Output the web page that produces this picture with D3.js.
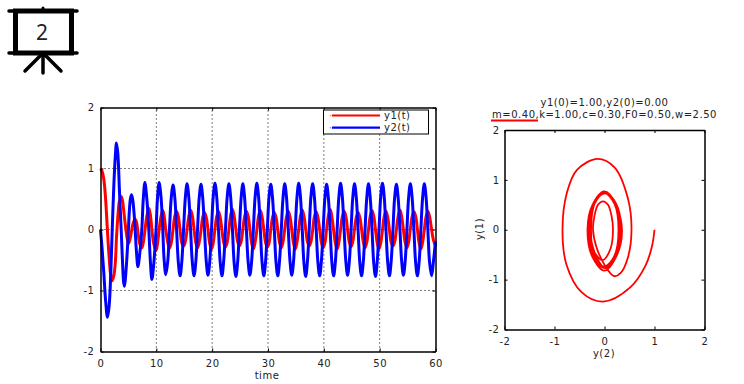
<!DOCTYPE html>
<html>
<head>
<meta charset="utf-8">
<script src="https://cdn.jsdelivr.net/npm/d3@7"></script>
<style>
html, body { margin: 0; padding: 0; background: #fff; }
text { font-family: "DejaVu Sans", sans-serif; font-size: 10px; fill: #222; letter-spacing: 0.5px; }
</style>
</head>
<body>
<svg id="chart" width="744" height="384"></svg>
<script>
// readings along the curves, about 8 per cycle
const time = [
    0, 0.3, 0.6, 0.9, 1.25, 1.55, 1.85, 2.1, 2.4, 2.65,
    2.86, 3.1, 3.4, 3.7, 3.95, 4.15, 4.3, 4.55, 4.8, 5,
    5.15, 5.35, 5.55, 5.75, 6, 6.2, 6.45, 6.7, 7.05, 7.4, 7.65,
    7.95, 8.3, 8.65, 8.95, 9.2, 9.55, 9.95, 10.2, 10.5, 10.85,
    11.15, 11.4, 11.7, 12.05, 12.35, 12.67,
    13, 13.31, 13.63, 13.94, 14.25, 14.56, 14.88, 15.19,
    15.5, 15.81, 16.13, 16.44, 16.75, 17.06, 17.38, 17.69,
    18, 18.31, 18.63, 18.94, 19.25, 19.56, 19.88, 20.19,
    20.5, 20.81, 21.13, 21.44, 21.75, 22.06, 22.38, 22.69,
    23, 23.31, 23.63, 23.94, 24.25, 24.56, 24.88, 25.19,
    25.5, 25.81, 26.13, 26.44, 26.75, 27.06, 27.38, 27.69,
    28, 28.31, 28.63, 28.94, 29.25, 29.56, 29.88, 30.19,
    30.5, 30.81, 31.13, 31.44, 31.75, 32.06, 32.38, 32.69,
    33, 33.31, 33.63, 33.94, 34.25, 34.56, 34.88, 35.19,
    35.5, 35.81, 36.13, 36.44, 36.75, 37.06, 37.38, 37.69,
    38, 38.31, 38.63, 38.94, 39.25, 39.56, 39.88, 40.19,
    40.5, 40.81, 41.13, 41.44, 41.75, 42.06, 42.38, 42.69,
    43, 43.31, 43.63, 43.94, 44.25, 44.56, 44.88, 45.19,
    45.5, 45.81, 46.13, 46.44, 46.75, 47.06, 47.38, 47.69,
    48, 48.31, 48.63, 48.94, 49.25, 49.56, 49.88, 50.19,
    50.5, 50.81, 51.13, 51.44, 51.75, 52.06, 52.38, 52.69,
    53, 53.31, 53.63, 53.94, 54.25, 54.56, 54.88, 55.19,
    55.5, 55.81, 56.13, 56.44, 56.75, 57.06, 57.38, 57.69,
    58, 58.31, 58.63, 58.94, 59.3, 59.6, 60
];
const y1Values = [
    1, 0.95, 0.82, 0.52, -0.03, -0.46, -0.76, -0.84, -0.75, -0.55,
    -0.14, 0.2, 0.47, 0.54, 0.47, 0.32, 0.19, 0, -0.16, -0.23,
    -0.2, -0.13, -0.03, 0.07, 0.14, 0.17, 0.12, -0.04, -0.24, -0.3, -0.22,
    -0.02, 0.22, 0.35, 0.23, 0, -0.24, -0.34, -0.24, 0, 0.22,
    0.31, 0.22, -0.01, -0.21, -0.31, -0.22,
    0.01, 0.22, 0.3, 0.21, -0.01, -0.22, -0.27, -0.2,
    0, 0.21, 0.32, 0.23, 0.01, -0.21, -0.3, -0.2,
    -0.01, 0.2, 0.28, 0.2, 0, -0.23, -0.32, -0.22,
    0.01, 0.21, 0.3, 0.2, -0.01, -0.21, -0.29, -0.21,
    0, 0.23, 0.33, 0.22, 0, -0.2, -0.27, -0.2,
    0.01, 0.21, 0.3, 0.22, 0.01, -0.22, -0.32, -0.21,
    -0.01, 0.22, 0.31, 0.21, 0, -0.21, -0.29, -0.22,
    0, 0.2, 0.28, 0.2, -0.01, -0.21, -0.3, -0.2,
    0.01, 0.21, 0.3, 0.21, 0, -0.22, -0.32, -0.21,
    0, 0.22, 0.32, 0.22, 0.01, -0.2, -0.27, -0.2,
    -0.01, 0.21, 0.29, 0.2, 0, -0.21, -0.3, -0.22,
    0.01, 0.23, 0.33, 0.21, -0.01, -0.22, -0.32, -0.21,
    0, 0.21, 0.3, 0.22, 0, -0.21, -0.28, -0.2,
    0.01, 0.2, 0.28, 0.2, 0.01, -0.2, -0.3, -0.21,
    0, 0.22, 0.31, 0.22, 0, -0.22, -0.32, -0.22,
    -0.01, 0.21, 0.3, 0.2, -0.01, -0.21, -0.27, -0.2,
    0, 0.22, 0.32, 0.21, 0, -0.21, -0.3, -0.2,
    0.01, 0.21, 0.29, 0.22, 0.01, -0.22, -0.32, -0.21,
    0, 0.21, 0.3, 0.21, 0, -0.16, -0.27
];
const y2Values = [
    0, -0.33, -0.72, -1.15, -1.44, -1.25, -0.7, 0, 0.75, 1.2,
    1.42, 1.25, 0.62, 0, -0.55, -0.87, -0.93, -0.7, -0.35, 0,
    0.28, 0.5, 0.57, 0.5, 0.28, 0, -0.38, -0.61, -0.38, 0, 0.48,
    0.77, 0.5, 0, -0.55, -0.82, -0.55, 0, 0.5, 0.77, 0.52,
    0, -0.5, -0.74, -0.52, 0, 0.52,
    0.73, 0.52, 0, -0.54, -0.76, -0.53, 0, 0.52,
    0.75, 0.53, 0, -0.53, -0.76, -0.54, 0, 0.53,
    0.74, 0.52, 0, -0.52, -0.75, -0.53, 0, 0.54,
    0.76, 0.54, 0, -0.54, -0.76, -0.52, 0, 0.53,
    0.75, 0.53, 0, -0.55, -0.77, -0.54, 0, 0.52,
    0.75, 0.52, 0, -0.53, -0.75, -0.53, 0, 0.53,
    0.76, 0.54, 0, -0.54, -0.76, -0.53, 0, 0.54,
    0.74, 0.52, 0, -0.54, -0.76, -0.52, 0, 0.52,
    0.75, 0.53, 0, -0.52, -0.75, -0.54, 0, 0.53,
    0.76, 0.54, 0, -0.55, -0.77, -0.53, 0, 0.54,
    0.75, 0.53, 0, -0.54, -0.76, -0.52, 0, 0.52,
    0.74, 0.52, 0, -0.54, -0.76, -0.54, 0, 0.53,
    0.76, 0.54, 0, -0.52, -0.75, -0.53, 0, 0.53,
    0.75, 0.53, 0, -0.54, -0.76, -0.54, 0, 0.52,
    0.75, 0.52, 0, -0.55, -0.77, -0.53, 0, 0.54,
    0.76, 0.54, 0, -0.54, -0.76, -0.52, 0, 0.53,
    0.74, 0.52, 0, -0.52, -0.75, -0.53, 0, 0.53,
    0.75, 0.53, 0, -0.54, -0.76, -0.54, 0, 0.52,
    0.75, 0.53, 0, -0.54, -0.76, -0.55, -0.2
];
const timeTicks = [0, 10, 20, 30, 40, 50, 60];
const valueTicks = [-2, -1, 0, 1, 2];
const gridTimeTicks = [10, 20, 30, 40, 50];
const gridValueTicks = [-1, 0, 1];
const legendLabels = ['y1(t)', 'y2(t)'];
const titleLines = ['y1(0)=1.00,y2(0)=0.00', 'm=0.40,k=1.00,c=0.30,F0=0.50,w=2.50'];

const RED = '#ff0000';
const BLUE = '#0000ff';
const svg = d3.select('#chart');
const curve = d3.curveCatmullRom;

function drawAxes(g, x, y, xTicks, yTicks, yPadding) {
    const [x0, x1] = x.range();
    const [y0, y1] = y.range();
    g.append('g').attr('transform', `translate(0,${y0})`)
        .call(d3.axisBottom(x).tickValues(xTicks).tickFormat(d3.format('d')).tickSizeInner(-3).tickSizeOuter(0).tickPadding(8));
    g.append('g').attr('transform', `translate(${x0},0)`)
        .call(d3.axisLeft(y).tickValues(yTicks).tickFormat(d3.format('d')).tickSizeInner(-3).tickSizeOuter(0).tickPadding(yPadding));
    g.append('g').attr('transform', `translate(0,${y1})`)
        .call(d3.axisTop(x).tickValues(xTicks).tickSizeInner(-3).tickSizeOuter(0).tickFormat(''));
    g.append('g').attr('transform', `translate(${x1},0)`)
        .call(d3.axisRight(y).tickValues(yTicks).tickSizeInner(-3).tickSizeOuter(0).tickFormat(''));
    g.selectAll('.domain').attr('stroke', '#000').attr('stroke-width', 1.5);
    g.selectAll('.tick line').attr('stroke', '#000');
    // the original uses a plain hyphen for negative numbers
    g.selectAll('.tick text').text(function() { return this.textContent.replace('\u2212', '-'); });
}

// presentation icon
const icon = svg.append('g').attr('stroke', '#000').attr('stroke-linecap', 'round').attr('fill', 'none');
icon.append('rect').attr('x', 15.5).attr('y', 11).attr('width', 56).attr('height', 42).attr('stroke-width', 5);
[[9, 11, 77, 11, 3.5], [9, 53, 77, 53, 3.5], [43, 8, 43, 11, 3],
 [43, 53, 25, 71, 3.5], [43, 53, 43, 73, 3.5], [43, 53, 61, 71, 3.5]].forEach(s => {
    icon.append('line').attr('x1', s[0]).attr('y1', s[1]).attr('x2', s[2]).attr('y2', s[3]).attr('stroke-width', s[4]);
});
svg.append('text').attr('x', 42).attr('y', 40).attr('text-anchor', 'middle')
    .style('font-family', '"Noto Sans", sans-serif').style('font-size', '21px').style('letter-spacing', 0).text('2');

// left: time series
const xTime = d3.scaleLinear().domain([0, 60]).range([100.5, 435.5]);
const yTime = d3.scaleLinear().domain([-2, 2]).range([351.5, 107.5]);
const leftGroup = svg.append('g');

gridTimeTicks.forEach(t => {
    leftGroup.append('line').attr('x1', xTime(t)).attr('x2', xTime(t))
        .attr('y1', yTime(-2)).attr('y2', yTime(2))
        .attr('stroke', '#000').attr('stroke-dasharray', '1 3');
});
gridValueTicks.forEach(v => {
    leftGroup.append('line').attr('x1', xTime(0)).attr('x2', xTime(60))
        .attr('y1', yTime(v)).attr('y2', yTime(v))
        .attr('stroke', '#000').attr('stroke-dasharray', '1 3');
});

const timeLine = values => d3.line().curve(curve)
    .x((d, i) => xTime(time[i]))
    .y((d, i) => yTime(values[i]))(values);

leftGroup.append('path').attr('d', timeLine(y1Values))
    .attr('fill', 'none').attr('stroke', RED).attr('stroke-width', 3);
leftGroup.append('path').attr('d', timeLine(y2Values))
    .attr('fill', 'none').attr('stroke', BLUE).attr('stroke-width', 3);

drawAxes(leftGroup, xTime, yTime, timeTicks, valueTicks, 6);

svg.append('text').attr('x', 267).attr('y', 379).attr('text-anchor', 'middle').text('time');

// legend
const legend = svg.append('g');
legend.append('rect').attr('x', 323.5).attr('y', 110).attr('width', 105).attr('height', 24)
    .attr('fill', '#fff').attr('stroke', '#000').attr('stroke-width', 1);
legendLabels.forEach((label, i) => {
    const rowY = 115.5 + i * 12.2;
    const color = i === 0 ? RED : BLUE;
    legend.append('circle').attr('cx', 330.5).attr('cy', rowY).attr('r', 0.8).attr('fill', color).attr('opacity', 0.5);
    legend.append('line').attr('x1', 332).attr('x2', 380).attr('y1', rowY).attr('y2', rowY)
        .attr('stroke', color).attr('stroke-width', 2.2);
    legend.append('text').attr('x', 384).attr('y', rowY + 3.5).text(label);
});

// right: phase plot (the curve starts at x=1, y=0, as in the original)
const xPhase = d3.scaleLinear().domain([-2, 2]).range([504.5, 704.5]);
const yPhase = d3.scaleLinear().domain([-2, 2]).range([329.5, 130]);
const rightGroup = svg.append('g');

const phaseLine = d3.line().curve(curve)
    .x((d, i) => xPhase(y1Values[i]))
    .y((d, i) => yPhase(y2Values[i]));
rightGroup.append('path').attr('d', phaseLine(time))
    .attr('fill', 'none').attr('stroke', RED).attr('stroke-width', 1.8);

drawAxes(rightGroup, xPhase, yPhase, valueTicks, valueTicks, 5);

svg.append('text').attr('x', 604).attr('y', 357).attr('text-anchor', 'middle').text('y(2)');
svg.append('text').attr('transform', 'translate(483,229) rotate(-90)').attr('text-anchor', 'middle').text('y(1)');

titleLines.forEach((line, i) => {
    svg.append('text').attr('x', 604.5).attr('y', 106 + i * 12).attr('text-anchor', 'middle').text(line);
});
svg.append('line').attr('x1', 491).attr('x2', 538).attr('y1', 120.5).attr('y2', 120.5)
    .attr('stroke', RED).attr('stroke-width', 2);
</script>
</body>
</html>
